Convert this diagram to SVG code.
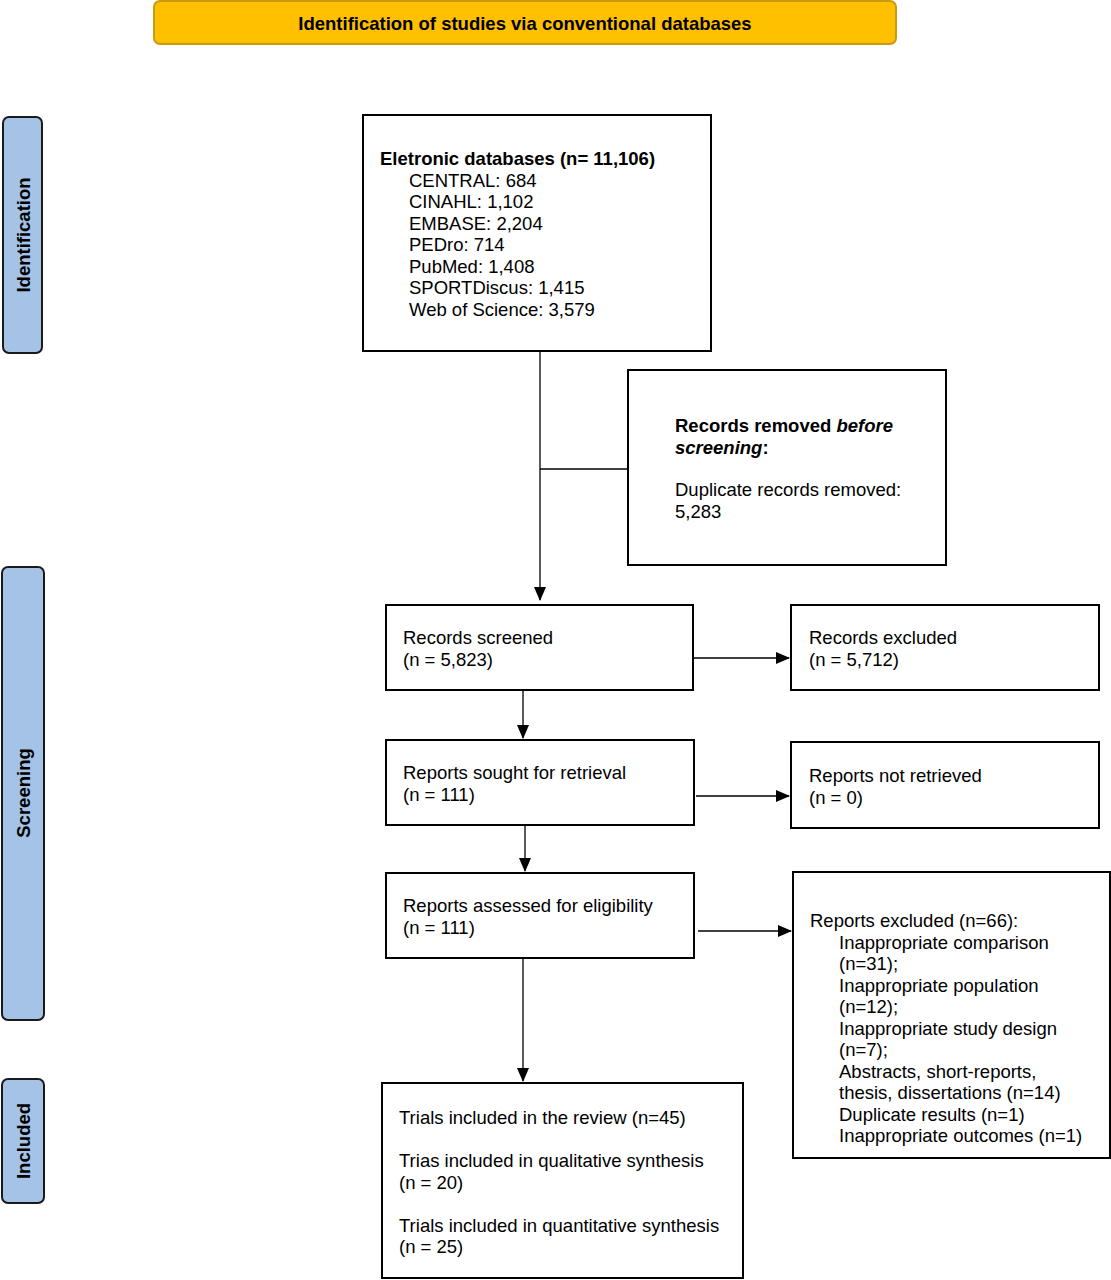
<svg xmlns="http://www.w3.org/2000/svg" width="1111" height="1280" viewBox="0 0 1111 1280">
<style>
text{font-family:"Liberation Sans",Arial,sans-serif;font-size:18.5px;fill:#000}
.b{font-weight:bold}
.box{fill:#fff;stroke:#000;stroke-width:2}
.side{fill:#a4c3e6;stroke:#1a1a1a;stroke-width:2}
.hdr{fill:#ffc000;stroke:#c89b12;stroke-width:2}
.ln{stroke:#000;stroke-width:1.3;fill:none}
</style>
<defs>
<marker id="ah" markerWidth="14" markerHeight="12" refX="13" refY="6" orient="auto" markerUnits="userSpaceOnUse">
<path d="M0,0 L14,6 L0,12 Z" fill="#000"/>
</marker>
</defs>
<rect width="1111" height="1280" fill="#fff"/>
<g id="header">
<rect class="hdr" x="154" y="1" width="742" height="43" rx="6"/>
<text class="b" x="525" y="29.5" text-anchor="middle">Identification of studies via conventional databases</text>
</g>
<g id="side-identification">
<rect class="side" x="3" y="117" width="39" height="236" rx="6"/>
<text class="b" transform="translate(29.5,235) rotate(-90)" text-anchor="middle">Identification</text>
</g>
<g id="side-screening">
<rect class="side" x="2" y="567" width="42" height="453" rx="6"/>
<text class="b" transform="translate(29.5,793) rotate(-90)" text-anchor="middle">Screening</text>
</g>
<g id="side-included">
<rect class="side" x="2" y="1079" width="42" height="124" rx="6"/>
<text class="b" transform="translate(29.5,1141) rotate(-90)" text-anchor="middle">Included</text>
</g>
<g id="connectors">
<line class="ln" x1="540" y1="351" x2="540" y2="600" marker-end="url(#ah)"/>
<line class="ln" x1="540" y1="469" x2="628" y2="469"/>
<line class="ln" x1="694" y1="658" x2="789" y2="658" marker-end="url(#ah)"/>
<line class="ln" x1="523" y1="690" x2="523" y2="738" marker-end="url(#ah)"/>
<line class="ln" x1="696" y1="796" x2="789" y2="796" marker-end="url(#ah)"/>
<line class="ln" x1="525" y1="825" x2="525" y2="871" marker-end="url(#ah)"/>
<line class="ln" x1="698" y1="931" x2="791" y2="931" marker-end="url(#ah)"/>
<line class="ln" x1="523" y1="958" x2="523" y2="1081" marker-end="url(#ah)"/>
</g>
<g id="databases">
<rect class="box" x="363" y="115" width="348" height="236"/>
<text class="b" x="380" y="165">Eletronic databases (n= 11,106)</text>
<text x="409" y="186.5">CENTRAL: 684</text>
<text x="409" y="208">CINAHL: 1,102</text>
<text x="409" y="229.5">EMBASE: 2,204</text>
<text x="409" y="251">PEDro: 714</text>
<text x="409" y="272.5">PubMed: 1,408</text>
<text x="409" y="294">SPORTDiscus: 1,415</text>
<text x="409" y="315.5">Web of Science: 3,579</text>
</g>
<g id="removed">
<rect class="box" x="628" y="370" width="318" height="195"/>
<text class="b" x="675" y="432">Records removed <tspan font-style="italic">before</tspan></text>
<text class="b" x="675" y="453.5"><tspan font-style="italic">screening</tspan>:</text>
<text x="675" y="496">Duplicate records removed:</text>
<text x="675" y="517.5">5,283</text>
</g>
<g id="screened">
<rect class="box" x="386" y="605" width="307" height="85"/>
<text x="403" y="644">Records screened</text>
<text x="403" y="665.5">(n = 5,823)</text>
</g>
<g id="rec-excluded">
<rect class="box" x="791" y="605" width="308" height="85"/>
<text x="809" y="644">Records excluded</text>
<text x="809" y="665.5">(n = 5,712)</text>
</g>
<g id="sought">
<rect class="box" x="386" y="740" width="308" height="85"/>
<text x="403" y="779">Reports sought for retrieval</text>
<text x="403" y="800.5">(n = 111)</text>
</g>
<g id="not-retrieved">
<rect class="box" x="791" y="742" width="308" height="86"/>
<text x="809" y="782">Reports not retrieved</text>
<text x="809" y="803.5">(n = 0)</text>
</g>
<g id="assessed">
<rect class="box" x="386" y="873" width="308" height="85"/>
<text x="403" y="912">Reports assessed for eligibility</text>
<text x="403" y="933.5">(n = 111)</text>
</g>
<g id="rep-excluded">
<rect class="box" x="793" y="872" width="317" height="286"/>
<text x="810" y="927">Reports excluded (n=66):</text>
<text x="839" y="948.5">Inappropriate comparison</text>
<text x="839" y="970">(n=31);</text>
<text x="839" y="991.5">Inappropriate population</text>
<text x="839" y="1013">(n=12);</text>
<text x="839" y="1034.5">Inappropriate study design</text>
<text x="839" y="1056">(n=7);</text>
<text x="839" y="1077.5">Abstracts, short-reports,</text>
<text x="839" y="1099">thesis, dissertations (n=14)</text>
<text x="839" y="1120.5">Duplicate results (n=1)</text>
<text x="839" y="1142">Inappropriate outcomes (n=1)</text>
</g>
<g id="included">
<rect class="box" x="382" y="1083" width="361" height="195"/>
<text x="399" y="1124">Trials included in the review (n=45)</text>
<text x="399" y="1167">Trias included in qualitative synthesis</text>
<text x="399" y="1188.5">(n = 20)</text>
<text x="399" y="1231.5">Trials included in quantitative synthesis</text>
<text x="399" y="1253">(n = 25)</text>
</g>
</svg>
